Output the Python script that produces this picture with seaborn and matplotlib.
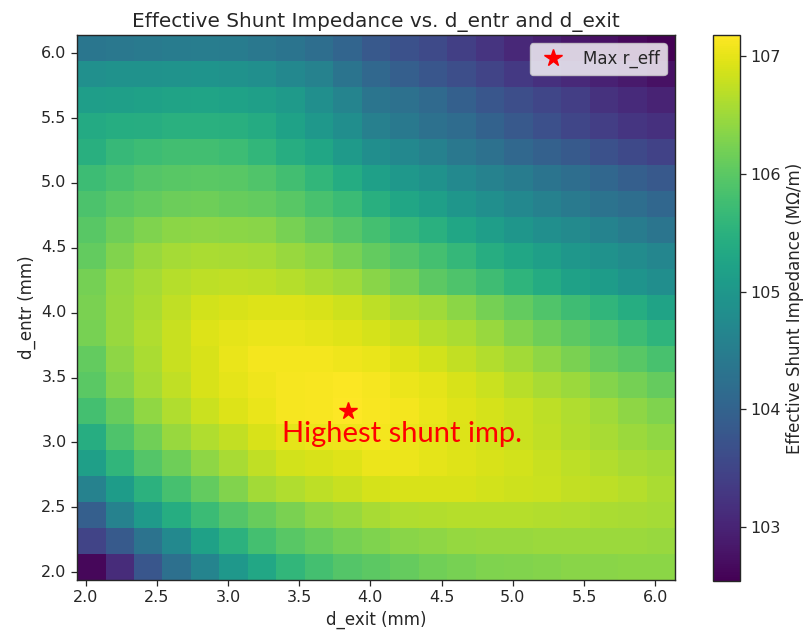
import numpy as np
import pandas as pd
import matplotlib
matplotlib.use("Agg")
import matplotlib.pyplot as plt
import seaborn as sns

# Scan grid: cell centres of the exit / entrance gap distances (mm)
d_exit = [2.04, 2.24, 2.44, 2.64, 2.84, 3.04, 3.24, 3.44, 3.64, 3.84, 4.04,
          4.24, 4.44, 4.64, 4.84, 5.04, 5.24, 5.44, 5.64, 5.84, 6.04]
d_entr = [2.04, 2.24, 2.44, 2.64, 2.84, 3.04, 3.24, 3.44, 3.64, 3.84, 4.04,
          4.24, 4.44, 4.64, 4.84, 5.04, 5.24, 5.44, 5.64, 5.84, 6.04]

axis_ticks = [2.0, 2.5, 3.0, 3.5, 4.0, 4.5, 5.0, 5.5, 6.0]
cbar_ticks = [103, 104, 105, 106, 107]

# Effective shunt impedance (MOhm/m), one list per d_entr value, ordered by d_exit
r_entr_2_04 = [102.63, 103.12, 103.79, 104.23, 104.63, 105.02, 105.30, 105.60, 105.79, 105.93, 106.02,
               106.09, 106.18, 106.23, 106.28, 106.30, 106.32, 106.35, 106.35, 106.37, 106.38]
r_entr_2_24 = [103.47, 103.84, 104.30, 104.72, 105.19, 105.51, 105.79, 105.97, 106.11, 106.21, 106.28,
               106.35, 106.39, 106.44, 106.46, 106.47, 106.48, 106.49, 106.48, 106.48, 106.47]
r_entr_2_44 = [103.93, 104.58, 105.05, 105.42, 105.70, 105.93, 106.11, 106.25, 106.39, 106.46, 106.58,
               106.62, 106.65, 106.67, 106.67, 106.67, 106.65, 106.62, 106.60, 106.58, 106.55]
r_entr_2_64 = [104.58, 105.09, 105.51, 105.81, 106.07, 106.30, 106.53, 106.62, 106.72, 106.79, 106.88,
               106.90, 106.90, 106.90, 106.86, 106.83, 106.81, 106.76, 106.72, 106.67, 106.60]
r_entr_2_84 = [105.14, 105.58, 105.93, 106.16, 106.39, 106.58, 106.74, 106.86, 106.90, 106.95, 107.04,
               107.04, 106.99, 106.95, 106.90, 106.86, 106.79, 106.72, 106.65, 106.58, 106.53]
r_entr_3_04 = [105.44, 105.88, 106.18, 106.46, 106.62, 106.76, 106.90, 106.99, 107.04, 107.06, 107.09,
               107.04, 106.99, 106.93, 106.86, 106.81, 106.74, 106.65, 106.58, 106.48, 106.41]
r_entr_3_24 = [105.79, 106.11, 106.41, 106.62, 106.81, 106.93, 107.02, 107.11, 107.13, 107.18, 107.13,
               107.09, 107.02, 106.95, 106.88, 106.81, 106.72, 106.62, 106.51, 106.39, 106.28]
r_entr_3_44 = [106.00, 106.32, 106.55, 106.74, 106.90, 106.99, 107.06, 107.12, 107.14, 107.15, 107.11,
               107.04, 106.99, 106.90, 106.81, 106.69, 106.58, 106.48, 106.32, 106.21, 106.09]
r_entr_3_64 = [106.07, 106.39, 106.60, 106.79, 106.90, 107.02, 107.09, 107.09, 107.09, 107.06, 107.02,
               106.95, 106.86, 106.76, 106.65, 106.53, 106.39, 106.25, 106.09, 105.97, 105.83]
r_entr_3_84 = [106.23, 106.46, 106.62, 106.79, 106.93, 106.99, 107.02, 107.02, 106.99, 106.95, 106.88,
               106.79, 106.67, 106.60, 106.46, 106.30, 106.16, 106.02, 105.88, 105.72, 105.56]
r_entr_4_04 = [106.25, 106.46, 106.60, 106.74, 106.86, 106.90, 106.93, 106.93, 106.90, 106.83, 106.72,
               106.60, 106.51, 106.37, 106.21, 106.07, 105.90, 105.74, 105.58, 105.42, 105.23]
r_entr_4_24 = [106.21, 106.44, 106.55, 106.67, 106.72, 106.74, 106.72, 106.67, 106.60, 106.51, 106.35,
               106.21, 106.02, 105.88, 105.74, 105.56, 105.37, 105.19, 105.09, 104.95, 104.81]
r_entr_4_44 = [106.07, 106.30, 106.46, 106.55, 106.60, 106.58, 106.55, 106.46, 106.37, 106.23, 106.07,
               105.93, 105.79, 105.63, 105.44, 105.28, 105.14, 105.00, 104.88, 104.77, 104.67]
r_entr_4_64 = [105.97, 106.16, 106.28, 106.37, 106.39, 106.37, 106.35, 106.23, 106.09, 105.95, 105.79,
               105.63, 105.49, 105.28, 105.12, 104.98, 104.84, 104.74, 104.61, 104.47, 104.35]
r_entr_4_84 = [105.86, 106.00, 106.07, 106.14, 106.16, 106.11, 106.07, 105.97, 105.83, 105.70, 105.46,
               105.28, 105.14, 104.98, 104.84, 104.70, 104.56, 104.44, 104.30, 104.19, 104.07]
r_entr_5_04 = [105.72, 105.83, 105.93, 105.97, 106.00, 105.97, 105.90, 105.77, 105.60, 105.39, 105.16,
               105.02, 104.88, 104.72, 104.58, 104.47, 104.33, 104.19, 104.07, 103.93, 103.82]
r_entr_5_24 = [105.46, 105.65, 105.72, 105.77, 105.77, 105.72, 105.60, 105.44, 105.28, 105.05, 104.81,
               104.70, 104.56, 104.40, 104.26, 104.09, 103.96, 103.84, 103.70, 103.56, 103.45]
r_entr_5_44 = [105.35, 105.42, 105.44, 105.49, 105.49, 105.46, 105.37, 105.21, 105.02, 104.81, 104.54,
               104.42, 104.26, 104.16, 103.98, 103.82, 103.68, 103.51, 103.38, 103.26, 103.19]
r_entr_5_64 = [105.12, 105.14, 105.19, 105.23, 105.25, 105.21, 105.14, 105.05, 104.84, 104.63, 104.35,
               104.26, 104.12, 103.95, 103.79, 103.63, 103.51, 103.38, 103.21, 103.10, 102.98]
r_entr_5_84 = [104.86, 104.88, 104.91, 104.93, 104.95, 104.91, 104.84, 104.70, 104.58, 104.33, 104.09,
               103.93, 103.79, 103.63, 103.47, 103.31, 103.19, 103.07, 102.96, 102.86, 102.75]
r_entr_6_04 = [104.37, 104.40, 104.44, 104.47, 104.49, 104.47, 104.40, 104.33, 104.19, 104.03, 103.82,
               103.70, 103.58, 103.40, 103.24, 103.05, 102.93, 102.82, 102.73, 102.63, 102.54]

rows = [r_entr_2_04, r_entr_2_24, r_entr_2_44, r_entr_2_64, r_entr_2_84, r_entr_3_04,
        r_entr_3_24, r_entr_3_44, r_entr_3_64, r_entr_3_84, r_entr_4_04, r_entr_4_24,
        r_entr_4_44, r_entr_4_64, r_entr_4_84, r_entr_5_04, r_entr_5_24, r_entr_5_44,
        r_entr_5_64, r_entr_5_84, r_entr_6_04]
r_eff = pd.DataFrame(np.array(rows), index=d_entr, columns=d_exit)

step_x = d_exit[1] - d_exit[0]
step_y = d_entr[1] - d_entr[0]


def x_pos(v):
    """Convert a d_exit value (mm) to heatmap cell coordinates."""
    return (v - d_exit[0]) / step_x + 0.5


def y_pos(v):
    """Convert a d_entr value (mm) to heatmap cell coordinates."""
    return (v - d_entr[0]) / step_y + 0.5


sns.set_style("ticks")
fig = plt.figure(figsize=(8.05, 6.37), dpi=100)
ax = fig.add_axes([0.0957, 0.0895, 0.7429, 0.8556])
cax = fig.add_axes([0.8857, 0.0879, 0.0335, 0.857])

sns.heatmap(r_eff, ax=ax, cbar_ax=cax, cmap="viridis",
            cbar_kws={"ticks": cbar_ticks})
ax.invert_yaxis()  # lowest d_entr at the bottom

# Restore a full frame around the map
for sp in ax.spines.values():
    sp.set_visible(True)
    sp.set_linewidth(1.0)
    sp.set_color(".15")

ax.set_xticks([x_pos(v) for v in axis_ticks])
ax.set_xticklabels([f"{v:.1f}" for v in axis_ticks], rotation=0)
ax.set_yticks([y_pos(v) for v in axis_ticks])
ax.set_yticklabels([f"{v:.1f}" for v in axis_ticks], rotation=0)
ax.tick_params(axis="both", labelsize=11.5, length=4, width=0.9)

ax.set_title("Effective Shunt Impedance vs. d_entr and d_exit", fontsize=14.4, pad=6)
ax.set_xlabel("d_exit (mm)", fontsize=12)
ax.set_ylabel("d_entr (mm)", fontsize=12)

# Colorbar styling
cbar = ax.collections[0].colorbar
cbar.outline.set_visible(True)
cbar.outline.set_linewidth(1.0)
cbar.outline.set_edgecolor(".15")
cbar.ax.tick_params(labelsize=11.5, length=4, width=0.9)
cbar.set_label("Effective Shunt Impedance (MΩ/m)", fontsize=12)

# Mark the maximum
vals = r_eff.to_numpy()
i_max, j_max = np.unravel_index(np.argmax(vals), vals.shape)
ax.plot(x_pos(d_exit[j_max]), y_pos(d_entr[i_max]), linestyle="none",
        marker="*", color="red", markersize=13, label="Max r_eff")
ax.legend(loc="upper right", fontsize=12)

ax.text(x_pos(3.38), y_pos(3.0), "Highest shunt imp.", color="red",
        fontsize=21, family=["Lato", "DejaVu Sans"], ha="left", va="baseline")

fig.savefig("out.png", dpi=100)
